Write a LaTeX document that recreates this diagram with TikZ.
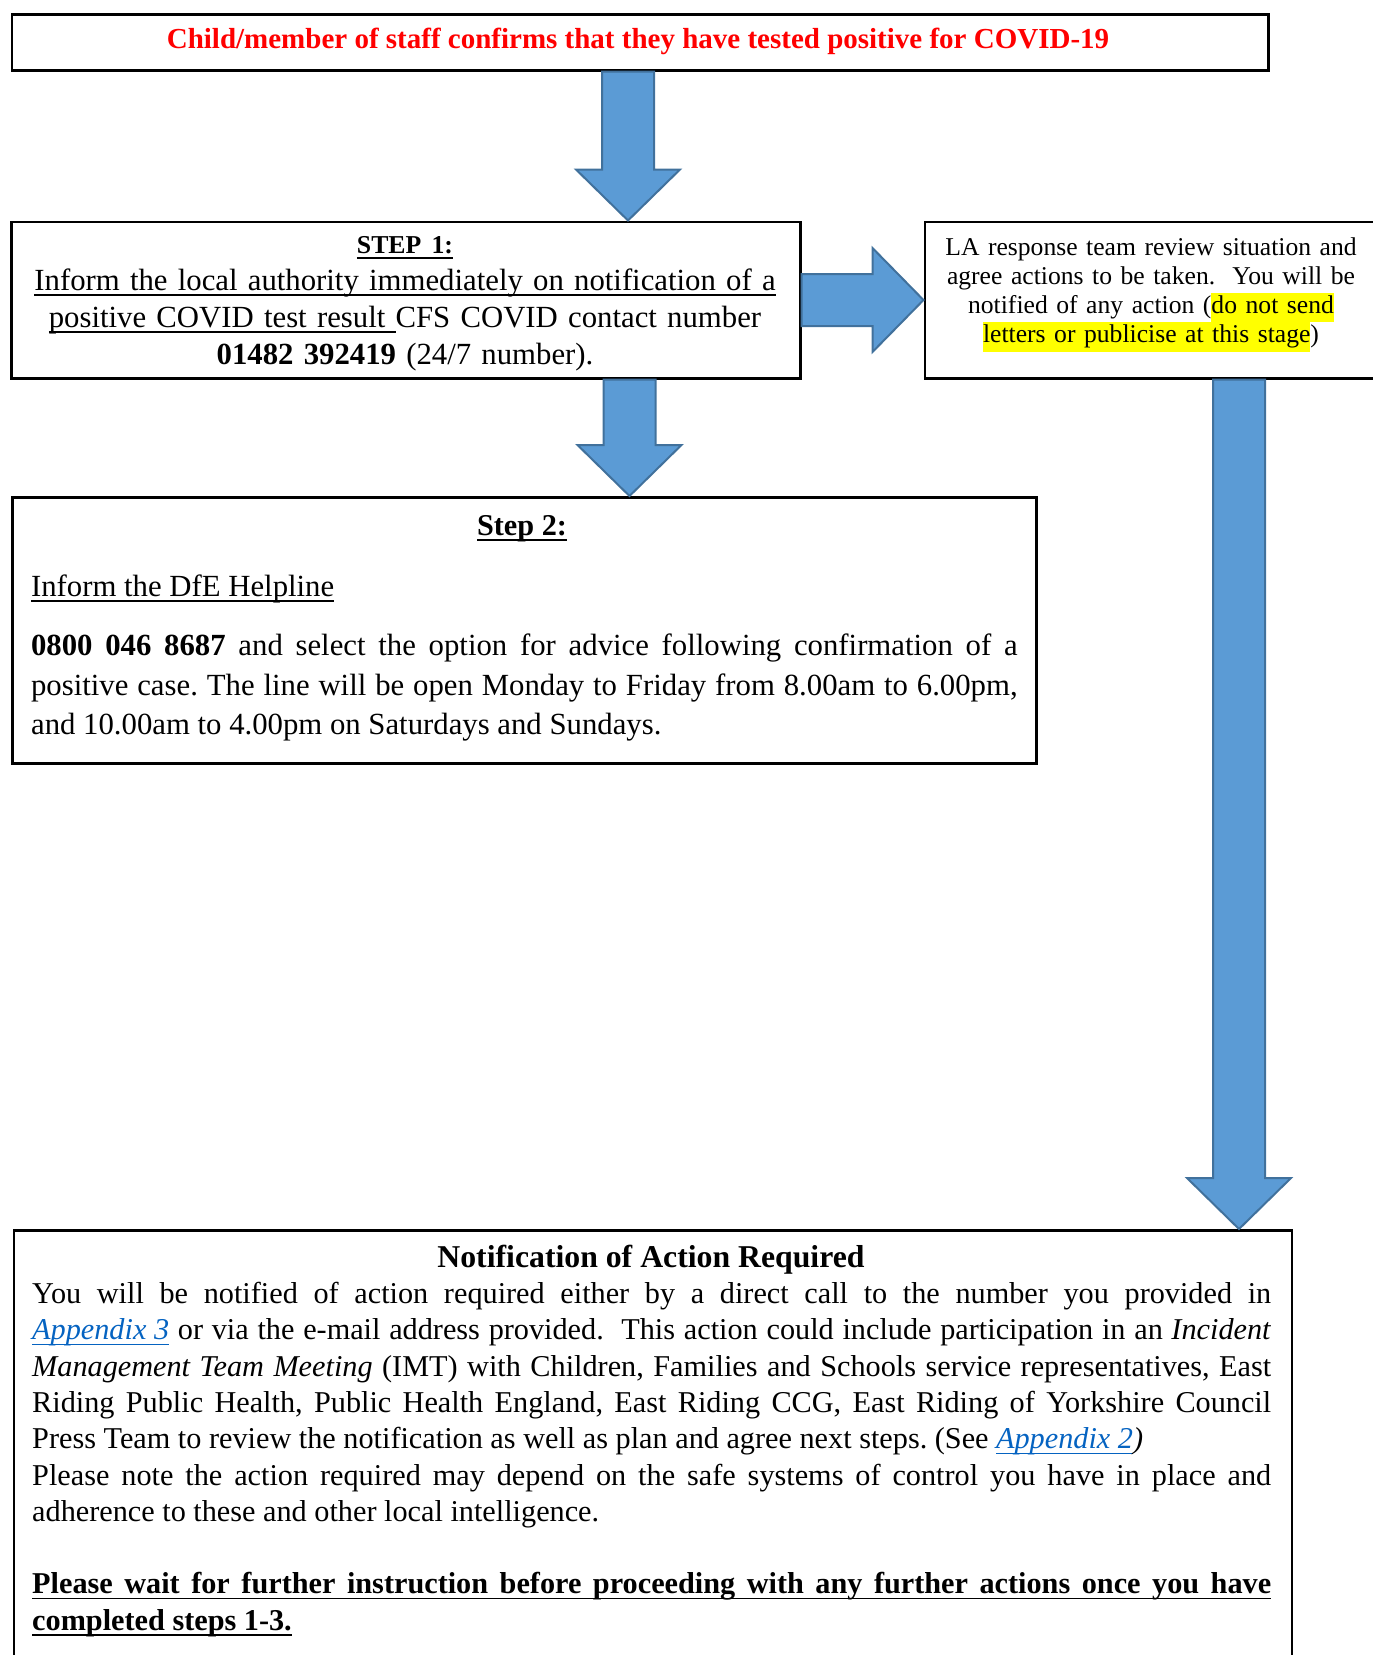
\documentclass[tikz,border=0pt]{standalone}
\usepackage{fontspec}
\setmainfont{Liberation Serif}
\usetikzlibrary{calc}
\definecolor{arrowfill}{HTML}{5B9BD5}
\definecolor{arrowline}{HTML}{41719C}
\definecolor{linkblue}{HTML}{0563C1}
\definecolor{hlyellow}{HTML}{FFFF00}
\definecolor{titlered}{HTML}{FF0000}
\newcommand\uln[1]{\leavevmode\setbox0=\hbox{#1}\rlap{\vrule height -1.6pt depth 2.2pt width \wd0}\box0}
\newcommand\ulnw[2]{\leavevmode\setbox0=\hbox to #1{#2}\rlap{\vrule height -1.6pt depth 2.2pt width \wd0}\box0}
\newcommand\hlt[1]{{\setlength\fboxsep{0pt}\colorbox{hlyellow}{\strut#1}}}
\newcommand\lnk[1]{\textcolor{linkblue}{\uln{\textit{#1}}}}
\newcommand\vbarrow[2]{\draw[barrow] let \p1=(#1), \p2=(#2) in
  (\x1-10.4pt,\y1) -- (\x1+10.4pt,\y1) -- (\x1+10.4pt,\y2+20.4pt) -- (\x1+20.8pt,\y2+20.4pt)
  -- (\x2,\y2) -- (\x1-20.8pt,\y2+20.4pt) -- (\x1-10.4pt,\y2+20.4pt) -- cycle;}
\newcommand\hbarrow[2]{\draw[barrow] let \p1=(#1), \p2=(#2) in
  (\x1,\y1+10.4pt) -- (\x2-20.4pt,\y1+10.4pt) -- (\x2-20.4pt,\y1+20.8pt) -- (\x2,\y2)
  -- (\x2-20.4pt,\y1-20.8pt) -- (\x2-20.4pt,\y1-10.4pt) -- (\x1,\y1-10.4pt) -- cycle;}
\begin{document}
\begin{tikzpicture}[x=0.4pt,y=-0.4pt,
  box/.style={draw=black, line width=1pt, rectangle, inner sep=0pt, anchor=north west},
  txt/.style={inner sep=0pt},
  barrow/.style={fill=arrowfill, draw=arrowline, line width=0.8pt, line join=miter}]
\useasboundingbox (0,0) rectangle (1373,1655);

% boxes
\node[box, minimum width=502.6pt, minimum height=22.4pt] (top) at (10.5,13) {};
\node[box, minimum width=315.6pt, minimum height=62.6pt] (s1) at (10,220.5) {};
\node[box, minimum width=182.2pt, minimum height=62.6pt] (la) at (923.5,220.5) {};
\node[box, minimum width=409.6pt, minimum height=106.4pt] (s2) at (11,496) {};
\node[box, minimum width=511.2pt, minimum height=176.4pt] (bot) at (12.5,1229) {};

% arrow guide coordinates
\coordinate (ax1) at (628,0);
\coordinate (ax2) at (629.5,0);
\coordinate (ax3) at (1239,0);

\vbarrow{top.south -| ax1}{s1.north -| ax1}
\vbarrow{s1.south -| ax2}{s2.north -| ax2}
\hbarrow{s1.east}{la.west}
\vbarrow{la.south -| ax3}{bot.north -| ax3}

% texts
\node[txt, anchor=base, text=titlered, font=\fontsize{11.6}{14}\selectfont\bfseries\frenchspacing] (toptxt) at (638,48.3)
  {Child/member of staff confirms that they have tested positive for COVID-19};

\node[txt, anchor=base, text width=310pt, align=center, font=\fontsize{12.3}{14.8}\selectfont\frenchspacing] (s1txt) at (405,253)
  {{\fontsize{10.3}{14.8}\selectfont\bfseries\uln{STEP 1:}}\\
   \uln{Inform the local authority immediately on notification of a}\\
   \uln{positive COVID test result\ }CFS COVID contact number\\
   \textbf{01482 392419} (24/7 number).};

\node[txt, anchor=base, text width=180pt, align=center, font=\fontsize{10.25}{11.7}\selectfont\frenchspacing] (latxt) at (1151,255)
  {LA response team review situation and\\
   agree actions to be taken.\ \ You will be\\
   notified of any action (\hlt{do not send}\\
   \hlt{letters or publicise at this stage})};

\node[txt, anchor=base, font=\fontsize{12.1}{14.7}\selectfont\bfseries] (s2ttl) at (522,535) {\uln{Step 2:}};
\node[txt, anchor=base west, font=\fontsize{12.3}{14.7}\selectfont] (s2sub) at (30.6,596) {\uln{Inform the DfE Helpline}};
\node[txt, anchor=base west, text width=394.6pt, align=justify, font=\fontsize{12.3}{15.8}\selectfont\frenchspacing] (s2txt) at (30.6,655.7)
  {\textbf{0800 046 8687} and select the option for advice following confirmation of a\linebreak
   positive case. The line will be open Monday to Friday from 8.00am to 6.00pm,\linebreak
   and 10.00am to 4.00pm on Saturdays and Sundays.};

\node[txt, anchor=base, font=\fontsize{12.7}{14.5}\selectfont\bfseries] (botttl) at (651,1267.5) {Notification of Action Required};
\node[txt, anchor=base west, text width=495.6pt, align=justify, font=\fontsize{12.1}{14.52}\selectfont\frenchspacing] (bottxt) at (31.7,1303.5)
  {You will be notified of action required either by a direct call to the number you provided in\linebreak
   \lnk{Appendix 3} or via the e-mail address provided.\ \ This action could include participation in an \textit{Incident}\linebreak
   \textit{Management Team Meeting} (IMT) with Children, Families and Schools service representatives, East\linebreak
   Riding Public Health, Public Health England, East Riding CCG, East Riding of Yorkshire Council\linebreak
   Press Team to review the notification as well as plan and agree next steps. (See \lnk{Appendix 2}\textit{)}\par
   Please note the action required may depend on the safe systems of control you have in place and\linebreak
   adherence to these and other local intelligence.\par
   \mbox{}\par
   \noindent\ulnw{\linewidth}{\bfseries Please wait for further instruction before proceeding with any further actions once you have}\par
   \noindent\uln{\bfseries completed steps 1-3.}};
\end{tikzpicture}
\end{document}
